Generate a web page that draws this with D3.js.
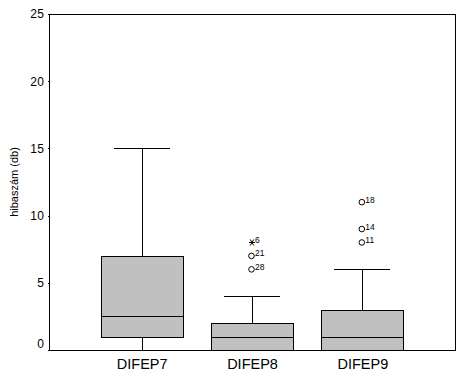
<!DOCTYPE html>
<html>
<head>
<meta charset="utf-8">
<script src="https://cdn.jsdelivr.net/npm/d3@7"></script>
<style>
html,body{margin:0;padding:0;background:#fff;}
svg{display:block;font-family:Arial,"Liberation Sans",sans-serif;}
</style>
</head>
<body>
<svg id="chart" width="462" height="371"></svg>
<script>
// ---- data ----
const categories = ["DIFEP7", "DIFEP8", "DIFEP9"];
const whiskerLow  = [0, 0, 0];
const q1          = [1, 0, 0];
const median      = [2.5, 1, 1];
const q3          = [7, 2, 3];
const whiskerHigh = [15, 4, 6];
// outliers: [categoryIndex, value, caseLabel, type]
const outlierCat   = [1, 1, 1, 2, 2, 2];
const outlierValue = [6, 7, 8, 8, 9, 11];
const outlierLabel = ["28", "21", "6", "11", "14", "18"];
const outlierType  = ["o", "o", "*", "o", "o", "o"];
const yTicks = [0, 5, 10, 15, 20, 25];
const yTitle = "hibaszám (db)";

// ---- layout ----
const svg = d3.select("#chart");
const L = 49, R = 455, T = 14, B = 350;
const x = d3.scalePoint().domain(categories).range([L, R]).padding(0.84);
const y = d3.scaleLinear().domain([0, 25]).range([B, T]);
const boxHalf = 41, capHalf = 28;
const px = v => Math.round(v) + 0.5;

const g = svg.append("g").attr("shape-rendering", "crispEdges");

// frame
g.append("rect").attr("x", px(L)).attr("y", px(T))
  .attr("width", Math.round(R - L)).attr("height", Math.round(B - T))
  .attr("fill", "none").attr("stroke", "#000");

// y axis
const yAxis = d3.axisLeft(y).tickValues(yTicks).tickSize(2).tickPadding(3).tickFormat(d3.format("d"));
const ya = svg.append("g").attr("transform", `translate(${px(L)},0)`).call(yAxis);
ya.select(".domain").remove();
ya.selectAll("line").attr("shape-rendering", "crispEdges");
ya.selectAll("text").attr("font-size", 12).attr("font-family", "Arial, 'Liberation Sans', sans-serif")
  .attr("letter-spacing", 0.5)
  .attr("dy", d => d === 0 ? "-0.25em" : "0.32em");

// x axis labels
const xAxis = d3.axisBottom(x).tickSize(0).tickPadding(8);
const xa = svg.append("g").attr("transform", `translate(0,${px(B)})`).call(xAxis);
xa.select(".domain").remove();
xa.selectAll("text").attr("font-size", 14.5).attr("font-family", "Arial, 'Liberation Sans', sans-serif");

// y title
svg.append("text")
  .attr("transform", `translate(18,${(T + B) / 2}) rotate(-90)`)
  .attr("text-anchor", "middle")
  .attr("font-size", 11)
  .text(yTitle);

// boxes
categories.forEach((c, i) => {
  const cx = x(c);
  // whiskers
  g.append("line").attr("x1", px(cx)).attr("x2", px(cx))
    .attr("y1", px(y(q3[i]))).attr("y2", px(y(whiskerHigh[i]))).attr("stroke", "#000");
  g.append("line").attr("x1", px(cx)).attr("x2", px(cx))
    .attr("y1", px(y(q1[i]))).attr("y2", px(y(whiskerLow[i]))).attr("stroke", "#000");
  g.append("line").attr("x1", Math.round(cx - capHalf)).attr("x2", Math.round(cx + capHalf))
    .attr("y1", px(y(whiskerHigh[i]))).attr("y2", px(y(whiskerHigh[i]))).attr("stroke", "#000");
  // box
  g.append("rect").attr("x", px(cx - boxHalf)).attr("y", px(y(q3[i])))
    .attr("width", Math.round(2 * boxHalf)).attr("height", Math.round(y(q1[i]) - y(q3[i])))
    .attr("fill", "#c0c0c0").attr("stroke", "#000");
  // median
  g.append("line").attr("x1", Math.round(cx - boxHalf)).attr("x2", Math.round(cx + boxHalf))
    .attr("y1", px(y(median[i]))).attr("y2", px(y(median[i]))).attr("stroke", "#000");
});

// outliers
outlierValue.forEach((v, k) => {
  const cx = x(categories[outlierCat[k]]);
  const cy = y(v);
  if (outlierType[k] === "o") {
    svg.append("circle").attr("cx", cx - 0.5).attr("cy", cy).attr("r", 2.8)
      .attr("fill", "none").attr("stroke", "#000").attr("stroke-width", 1);
  } else {
    const s = 3;
    const sg = svg.append("g").attr("stroke", "#000").attr("stroke-width", 1);
    sg.append("line").attr("x1", cx - s).attr("x2", cx + s).attr("y1", cy).attr("y2", cy);
    sg.append("line").attr("x1", cx - s * 0.6).attr("x2", cx + s * 0.6).attr("y1", cy - s).attr("y2", cy + s);
    sg.append("line").attr("x1", cx + s * 0.6).attr("x2", cx - s * 0.6).attr("y1", cy - s).attr("y2", cy + s);
  }
  svg.append("text").attr("x", cx + 3).attr("y", cy + 0.5)
    .attr("font-size", 8.5).text(outlierLabel[k]);
});
</script>
</body>
</html>
